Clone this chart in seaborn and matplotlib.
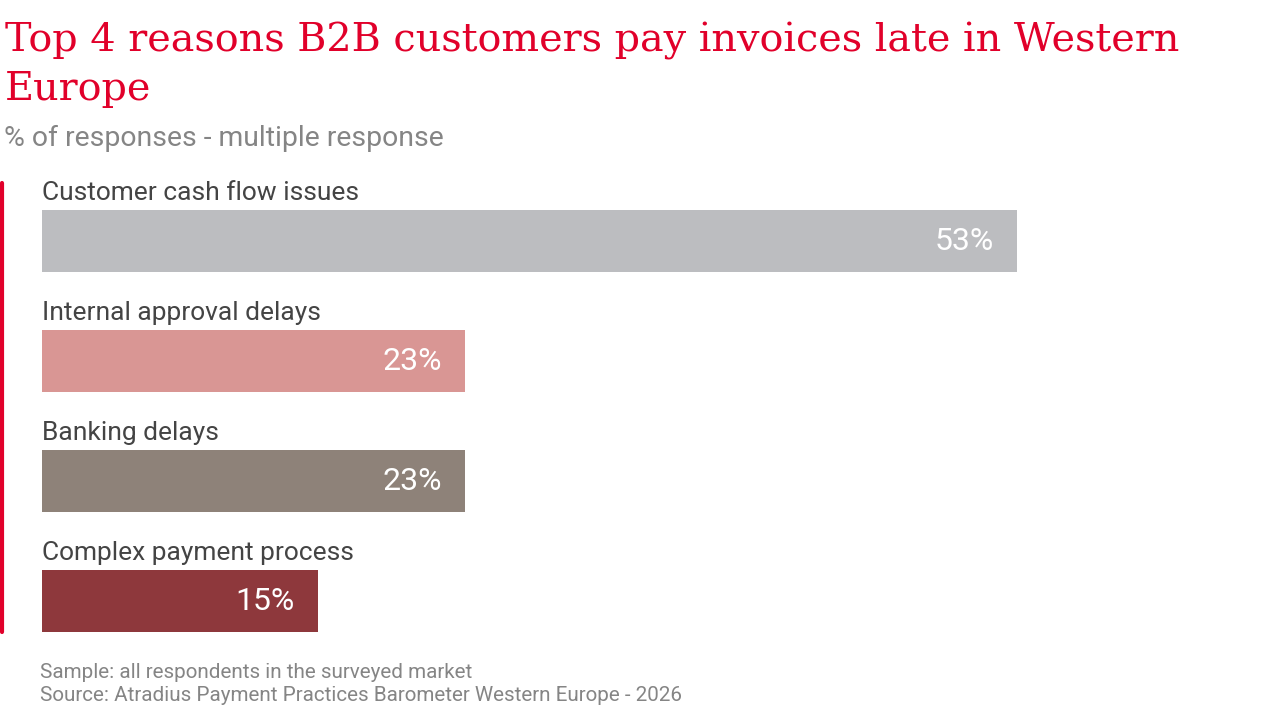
import matplotlib
matplotlib.use('Agg')
import matplotlib.pyplot as plt
import seaborn as sns
import pandas as pd
from matplotlib.lines import Line2D

reasons = ['Customer cash flow issues', 'Internal approval delays', 'Banking delays', 'Complex payment process']
shares = [53, 23, 23, 15]
barColors = ['#BCBDC0', '#D99694', '#8E8279', '#8E383C']

titleLines = ['Top 4 reasons B2B customers pay invoices late in Western', 'Europe']
subtitleText = '% of responses - multiple response'
footerText = 'Sample: all respondents in the surveyed market\nSource: Atradius Payment Practices Barometer Western Europe - 2026'

RED = '#E1002A'
W, H = 1280, 720

sns.set_theme(style='white')
plt.rcParams['font.family'] = ['Roboto', 'DejaVu Sans']

df = pd.DataFrame({'Reason': reasons, 'Share': shares})

fig = plt.figure(figsize=(W / 100, H / 100), dpi=100)
fig.patch.set_facecolor('white')

# bars area: 0 at x=42px, slots of 120px starting at y=181px
pxPerPct = 18.4
axLeft, axTop = 42, 181
axW, axH = pxPerPct * max(shares), 480
ax = fig.add_axes([axLeft / W, 1 - (axTop + axH) / H, axW / W, axH / H])

sns.barplot(data=df, x='Share', y='Reason', hue='Reason', palette=barColors,
            orient='h', width=62 / 120, legend=False, ax=ax, saturation=1, linewidth=0)
ax.set_xlim(0, max(shares))
ax.set_ylim(len(reasons) - 0.5, -0.5)
ax.axis('off')

padPct = 23 / pxPerPct
for i, (name, val) in enumerate(zip(reasons, shares)):
    ax.text(0, i - 0.2583 - 0.085, name, ha='left', va='baseline',
            fontsize=19, color='#444444')
    ax.text(val - padPct, i, f'{val}%', ha='right', va='center',
            fontsize=23, color='white')

# red accent line on the left
fig.add_artist(Line2D([2 / W, 2 / W], [1 - 183 / H, 1 - 632 / H], color=RED, lw=3))

# title: fit first line to the reference width (5px -> 1183px)
renderer = fig.canvas.get_renderer()
t1 = fig.text(5 / W, 1 - 52 / H, titleLines[0], ha='left', va='baseline', color=RED,
              fontsize=26, family=['DejaVu Serif'])
ext = t1.get_window_extent(renderer)
titleSize = 26 * 1178 / ext.width
t1.set_fontsize(titleSize)
fig.text(5 / W, 1 - 100 / H, titleLines[1], ha='left', va='baseline', color=RED,
         fontsize=titleSize, family=['DejaVu Serif'])

fig.text(4 / W, 1 - 146 / H, subtitleText, ha='left', va='baseline',
         color='#858585', fontsize=20.4)
fig.text(40 / W, 1 - 701 / H, footerText, ha='left', va='baseline',
         color='#858585', fontsize=14.9, linespacing=1.3)

fig.savefig('out.png', dpi=100, facecolor='white')
